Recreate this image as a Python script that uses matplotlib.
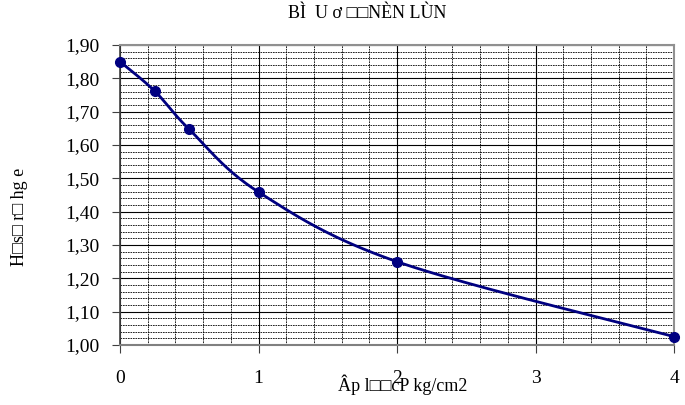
import numpy as np
import matplotlib
matplotlib.use("Agg")
import matplotlib.pyplot as plt
from matplotlib.ticker import MultipleLocator, FuncFormatter

pressure = [0, 0.25, 0.5, 1, 2, 4]
void_ratio = [1.85, 1.762, 1.647, 1.459, 1.25, 1.025]
title_text = "BÌ  U ơ □□NÈN LÙN"
ylabel_text = "H□s□ r□ hg e"
xlabel_text = "Âp l□□cP kg/cm2"

plt.rcParams['font.family'] = ['Liberation Serif', 'DejaVu Serif']

fig = plt.figure(figsize=(6.85, 4.05), dpi=100)
ax = fig.add_axes([120/685, 1-345/405, (674-120)/685, 300/405])

# Excel-style smoothed line (Catmull-Rom Bezier)
x = np.array(pressure, float); y = np.array(void_ratio, float)
P = np.column_stack([x, y])
n = len(P)
curve = []
t = np.linspace(0, 1, 40)[:, None]
for i in range(n-1):
    p0 = P[i]; p3 = P[i+1]
    pm = P[i-1] if i > 0 else P[i]
    pp = P[i+2] if i+2 < n else P[i+1]
    c1 = p0 + (p3 - pm)/6
    c2 = p3 - (pp - p0)/6
    seg = (1-t)**3*p0 + 3*(1-t)**2*t*c1 + 3*(1-t)*t**2*c2 + t**3*p3
    curve.append(seg)
curve = np.vstack(curve)
ax.plot(curve[:, 0], curve[:, 1], color='#000080', lw=2, zorder=3, clip_on=False)
ax.plot(x, y, 'o', color='#000080', ms=7, zorder=4, clip_on=False)

ax.set_xlim(0, 4)
ax.set_ylim(1.0, 1.9)
ax.xaxis.set_major_locator(MultipleLocator(1))
ax.xaxis.set_minor_locator(MultipleLocator(0.2))
ax.yaxis.set_major_locator(MultipleLocator(0.1))
ax.yaxis.set_minor_locator(MultipleLocator(0.02))
ax.yaxis.set_major_formatter(FuncFormatter(lambda v, p: f"{v:.2f}".replace('.', ',')))
ax.xaxis.set_major_formatter(FuncFormatter(lambda v, p: f"{int(round(v))}"))

ax.grid(which='major', color='black', lw=0.8, ls='-')
ax.grid(which='minor', color='black', lw=0.6, ls=(0, (2, 1)))
ax.set_axisbelow(True)

ax.tick_params(which='minor', length=0)
ax.tick_params(axis='y', which='major', direction='out', length=6, labelsize=14, pad=9, color='#404040')
ax.tick_params(axis='x', which='major', direction='out', length=6, labelsize=14, pad=12, color='#404040')

for s in ['top', 'right']:
    ax.spines[s].set_color('#909090'); ax.spines[s].set_linewidth(1.5)
ax.spines['left'].set_color('#404040'); ax.spines['left'].set_linewidth(1.2)
ax.spines['bottom'].set_color('#808080'); ax.spines['bottom'].set_linewidth(1.5)

fig.text(367/685, 1-13/405, title_text, ha='center', va='center', fontsize=13)
fig.text(20/685, 1-217/405, ylabel_text, ha='center', va='center', fontsize=13, rotation=90)
fig.text(403/685, 1-385/405, xlabel_text, ha='center', va='center', fontsize=13)

fig.savefig('out.png', dpi=100)
